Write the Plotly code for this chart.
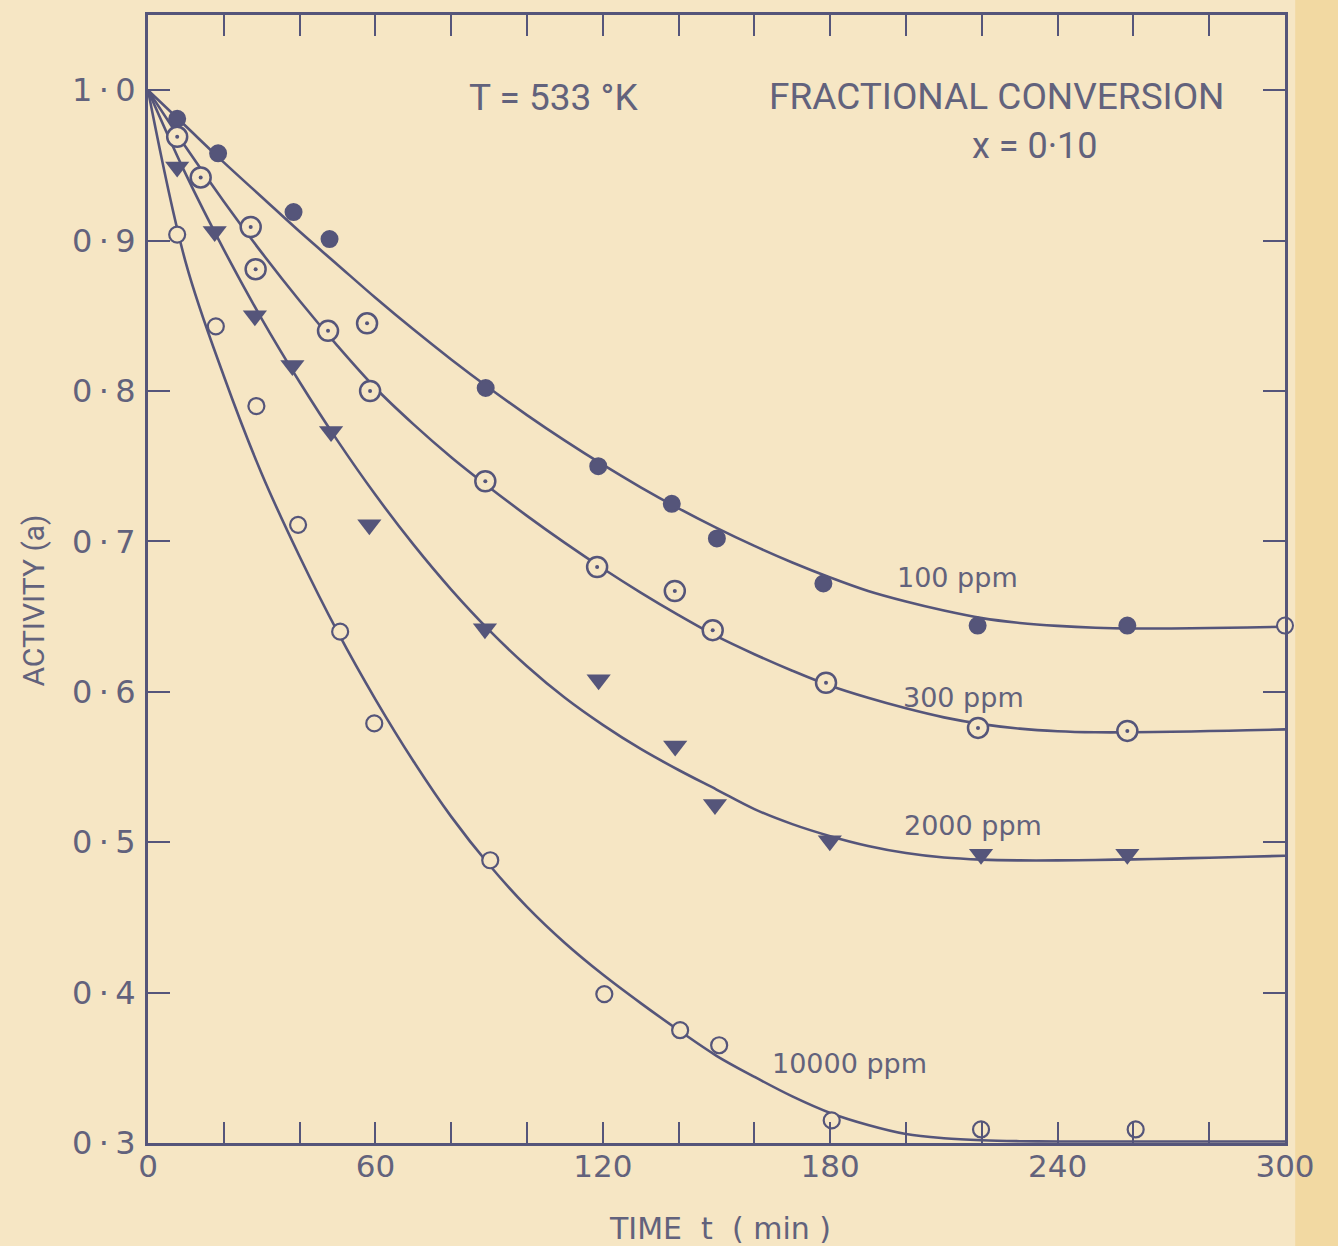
import plotly.graph_objects as go

# ---------------- data ----------------
# fitted curves, every 10 min
curve_t = list(range(0, 301, 10))
curve_100 = [1.000, 0.976, 0.952, 0.929, 0.906, 0.884, 0.862, 0.841, 0.821, 0.802,
             0.784, 0.767, 0.751, 0.736, 0.722, 0.709, 0.697, 0.686, 0.676, 0.667,
             0.660, 0.654, 0.649, 0.6458, 0.6438, 0.6426, 0.6421, 0.6421, 0.6424, 0.6428,
             0.6433]
curve_300 = [1.000, 0.962, 0.926, 0.892, 0.860, 0.830, 0.802, 0.778, 0.756, 0.736,
             0.717, 0.699, 0.682, 0.666, 0.651, 0.637, 0.625, 0.614, 0.604, 0.596,
             0.589, 0.583, 0.5785, 0.5755, 0.5738, 0.5731, 0.5731, 0.5734, 0.5739, 0.5744,
             0.5750]
curve_2000 = [1.000, 0.944, 0.894, 0.848, 0.806, 0.767, 0.731, 0.698, 0.668, 0.641,
              0.617, 0.596, 0.578, 0.562, 0.548, 0.535, 0.522, 0.512, 0.504, 0.4975,
              0.4928, 0.4898, 0.4884, 0.4879, 0.4879, 0.4882, 0.4886, 0.4891, 0.4897, 0.4903,
              0.4910]
curve_10000 = [1.000, 0.885, 0.810, 0.745, 0.690, 0.640, 0.595, 0.554, 0.517, 0.485,
               0.457, 0.433, 0.412, 0.393, 0.375, 0.358, 0.344, 0.331, 0.320, 0.312,
               0.306, 0.3032, 0.3018, 0.3012, 0.301, 0.301, 0.301, 0.301, 0.301, 0.301,
               0.301]

# experimental points
t_100 = [7.7, 18.5, 38.4, 47.9, 89.1, 118.8, 138.2, 150.1, 178.2, 218.9, 258.4, 300]
a_100 = [0.981, 0.958, 0.919, 0.901, 0.802, 0.750, 0.725, 0.702, 0.672, 0.644, 0.644, 0.644]

t_300 = [7.7, 13.9, 27.1, 28.4, 47.5, 57.8, 58.6, 89.0, 118.5, 139.0, 149.0, 178.9, 219.0, 258.4]
a_300 = [0.969, 0.942, 0.909, 0.881, 0.840, 0.845, 0.800, 0.740, 0.683, 0.667, 0.641, 0.606, 0.576, 0.574]

t_2000 = [7.7, 17.6, 28.2, 38.1, 48.3, 58.4, 88.9, 118.9, 139.1, 149.6, 179.9, 219.8, 258.4]
a_2000 = [0.949, 0.906, 0.850, 0.817, 0.773, 0.711, 0.642, 0.608, 0.564, 0.525, 0.501, 0.492, 0.492]

t_10000 = [7.7, 17.9, 28.6, 39.6, 50.7, 59.7, 90.3, 120.4, 140.4, 150.7, 180.4, 219.8, 260.6]
a_10000 = [0.904, 0.843, 0.790, 0.711, 0.640, 0.579, 0.488, 0.399, 0.375, 0.365, 0.315, 0.309, 0.309]

x_tickvals = list(range(0, 301, 20))
x_ticklabels = {0: "0", 60: "60", 120: "120", 180: "180", 240: "240", 300: "300"}
y_tickvals = [0.3, 0.4, 0.5, 0.6, 0.7, 0.8, 0.9, 1.0]
y_ticktext = ["0\u2009·\u20093", "0\u2009·\u20094", "0\u2009·\u20095", "0\u2009·\u20096",
              "0\u2009·\u20097", "0\u2009·\u20098", "0\u2009·\u20099", "1\u2009·\u20090"]

labels = ["100 ppm", "300 ppm", "2000 ppm", "10000 ppm"]
label_pos = [(213.7, 0.676), (215.3, 0.596), (217.6, 0.511), (185.0, 0.353)]

# ---------------- styling ----------------
BG = "#F6E6C4"
INK = "#55557A"
TXT = "#62627C"
NUMFONT = "DejaVu Sans"
NARROW = "Liberation Sans Narrow, Roboto, sans-serif"

fig = go.Figure()

for cy in [curve_100, curve_300, curve_2000, curve_10000]:
    fig.add_trace(go.Scatter(x=curve_t, y=cy, mode="lines",
                             line=dict(color=INK, width=2.6, shape="spline", smoothing=1.0),
                             hoverinfo="skip", showlegend=False))

# 100 ppm: filled circles (last one drawn open on the right axis)
fig.add_trace(go.Scatter(
    x=t_100, y=a_100, mode="markers", showlegend=False,
    marker=dict(symbol="circle", size=16,
                color=[INK] * (len(t_100) - 1) + [BG],
                line=dict(color=INK, width=2)),
    cliponaxis=False))

# 300 ppm: dotted circles
fig.add_trace(go.Scatter(
    x=t_300, y=a_300, mode="markers", showlegend=False,
    marker=dict(symbol="circle", size=20, color=BG, line=dict(color=INK, width=2.5))))
fig.add_trace(go.Scatter(
    x=t_300, y=a_300, mode="markers", showlegend=False, hoverinfo="skip",
    marker=dict(symbol="circle", size=4, color=INK, line=dict(width=0))))

# 2000 ppm: filled down-triangles
fig.add_trace(go.Scatter(
    x=t_2000, y=a_2000, mode="markers", showlegend=False,
    marker=dict(symbol="triangle-down", size=21, color=INK, line=dict(width=0))))

# 10000 ppm: open circles
fig.add_trace(go.Scatter(
    x=t_10000, y=a_10000, mode="markers", showlegend=False,
    marker=dict(symbol="circle", size=16, color=BG, line=dict(color=INK, width=2.2))))

annotations = []
for txt, (ax_, ay_) in zip(labels, label_pos):
    annotations.append(dict(x=ax_, y=ay_, xref="x", yref="y", text=txt, showarrow=False,
                            font=dict(family=NUMFONT, size=27, color=TXT)))
annotations += [
    dict(x=107, y=0.995, xref="x", yref="y", text="T = 533 °K", showarrow=False,
         font=dict(family=NARROW, size=37, color=TXT)),
    dict(x=224, y=0.996, xref="x", yref="y", text="FRACTIONAL CONVERSION", showarrow=False,
         font=dict(family=NARROW, size=37, color=TXT)),
    dict(x=234, y=0.963, xref="x", yref="y", text="x = 0·10", showarrow=False,
         font=dict(family=NARROW, size=36, color=TXT)),
    dict(x=-0.101, y=0.481, xref="paper", yref="paper", text="ACTIVITY (a)", showarrow=False,
         xanchor="center", yanchor="middle",
         textangle=-90, font=dict(family=NARROW, size=30, color=TXT)),
    dict(x=0.503, y=-0.0754, xref="paper", yref="paper", text="TIME  t  ( min )", showarrow=False,
         xanchor="center", yanchor="middle",
         font=dict(family=NUMFONT, size=30, color=TXT)),
]

shapes = [
    dict(type="rect", xref="paper", yref="paper", x0=1.009, x1=1.06, y0=-0.2, y1=1.05,
         fillcolor="#F2D9A2", line=dict(width=0), layer="below"),
]

fig.update_layout(
    width=1338, height=1246,
    margin=dict(l=148, r=53, t=15, b=103),
    paper_bgcolor=BG, plot_bgcolor=BG,
    annotations=annotations,
    shapes=shapes,
    xaxis=dict(range=[0, 300], tickvals=x_tickvals,
               ticktext=[x_ticklabels.get(v, "") for v in x_tickvals],
               ticks="inside", ticklen=21, tickwidth=2.2, tickcolor=INK,
               showline=True, linecolor=INK, linewidth=2.8, mirror="ticks",
               showgrid=False, zeroline=False, ticklabelstandoff=-6,
               tickfont=dict(family=NUMFONT, size=31, color=TXT)),
    yaxis=dict(range=[0.3, 1.05], tickvals=y_tickvals, ticktext=y_ticktext,
               ticks="inside", ticklen=22, tickwidth=2.2, tickcolor=INK,
               showline=True, linecolor=INK, linewidth=2.8, mirror="ticks",
               showgrid=False, zeroline=False, ticklabelstandoff=3,
               tickfont=dict(family=NUMFONT, size=32, color=TXT)),
)

fig.write_html("out.html", config={"displayModeBar": False},
               post_script="document.body.style.margin='0';document.body.style.background='" + BG + "';")
